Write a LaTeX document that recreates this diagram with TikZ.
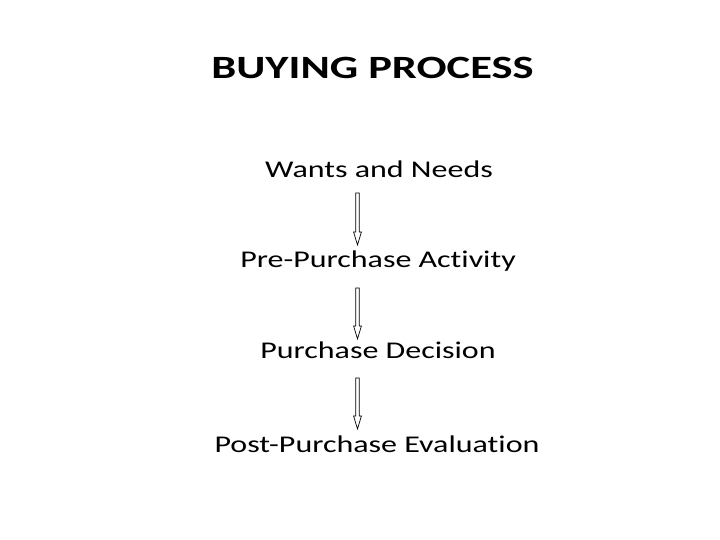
\documentclass[tikz,border=0pt]{standalone}
\usepackage{fontspec}
\setmainfont{Carlito}[Ligatures={NoCommon}]
\usetikzlibrary{calc}
\tikzset{
  lbl/.style={anchor=base, inner sep=0pt, xscale=1.3333, font=\fontsize{24bp}{28bp}\selectfont},
  ttl/.style={anchor=base, inner sep=0pt, xscale=1.37, font=\fontsize{32.5bp}{38bp}\selectfont\bfseries},
  blockarrow/.style={draw=black, line width=0.7bp, fill=white, line join=miter,
    to path={let \p1=(\tikztostart), \p2=(\tikztotarget) in
      (\x1-1.75bp,\y1) -- (\x1-1.75bp,\y2+13bp) -- (\x1-3.9bp,\y2+13bp) -- (\x1,\y2)
      -- (\x1+3.9bp,\y2+13bp) -- (\x1+1.75bp,\y2+13bp) -- (\x1+1.75bp,\y1) -- cycle}}
}
\begin{document}
\begin{tikzpicture}[x=1bp,y=1bp]
\useasboundingbox (0,0) rectangle (720,-540);
\node[ttl] (t) at (372.5,-79) {BUYING PROCESS};
\node[lbl] (w) at (379,-178) {Wants and Needs};
\node[lbl] (p) at (378,-268) {Pre-Purchase Activity};
\node[lbl] (d) at (378,-358) {Purchase Decision};
\node[lbl] (e) at (377,-452) {Post-Purchase Evaluation};
\coordinate (a1s) at (357.5,-193);
\coordinate (a1e) at (357.5,-245);
\coordinate (a2s) at (357.5,-288);
\coordinate (a2e) at (357.5,-339);
\coordinate (a3s) at (357.5,-378);
\coordinate (a3e) at (357.5,-429);
\draw[blockarrow] (a1s) to (a1e);
\draw[blockarrow] (a2s) to (a2e);
\draw[blockarrow] (a3s) to (a3e);
\end{tikzpicture}
\end{document}
